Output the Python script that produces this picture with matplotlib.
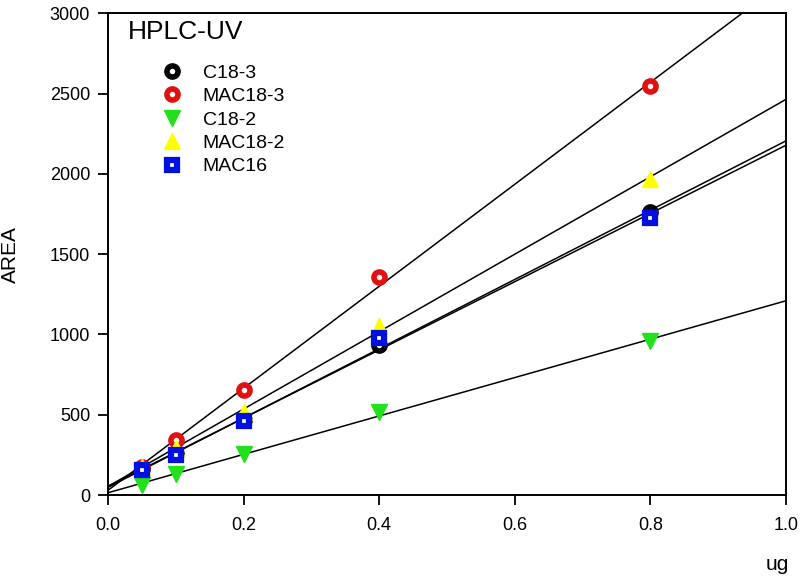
import numpy as np
import matplotlib.pyplot as plt

plt.rcParams['font.family'] = ['Liberation Sans', 'DejaVu Sans']

ug = np.array([0.05, 0.1, 0.2, 0.4, 0.8])
c18_3 = np.array([160, 255, 470, 935, 1765])
mac18_3 = np.array([174, 342, 653, 1357, 2546])
c18_2 = np.array([65, 130, 255, 515, 960])
mac18_2 = np.array([175, 290, 520, 1050, 1970])
mac16 = np.array([155, 250, 460, 975, 1725])

fig = plt.figure(figsize=(8.01, 5.77), dpi=100)
ax = fig.add_axes([0.135, 0.142, 0.846, 0.835])

xx = np.linspace(0, 1, 200)
series = [
    (c18_3, 'C18-3', dict(marker='o', mfc='white', mec='black', mew=4, ms=8)),
    (mac18_3, 'MAC18-3', dict(marker='o', mfc='white', mec='#e31010', mew=4, ms=8)),
    (c18_2, 'C18-2', dict(marker='v', mfc='#22e01c', mec='#22e01c', mew=1, ms=11)),
    (mac18_2, 'MAC18-2', dict(marker='^', mfc='#ffff00', mec='#ffff00', mew=1, ms=11)),
    (mac16, 'MAC16', dict(marker='s', mfc='white', mec='#0010e0', mew=4.5, ms=7.5)),
]

# linear fit lines for each column
for y, lab, st in series:
    k, b = np.polyfit(ug, y, 1)
    ax.plot(xx, k * xx + b, '-', color='black', lw=1.1, zorder=2)

for y, lab, st in series:
    ax.plot(ug, y, ls='none', label=lab, zorder=3, **st)

ax.set_xlim(0, 1.0)
ax.set_ylim(0, 3000)
ax.set_xticks([0.0, 0.2, 0.4, 0.6, 0.8, 1.0])
ax.set_yticks([0, 500, 1000, 1500, 2000, 2500, 3000])
ax.tick_params(labelsize=13, direction='out', length=7, width=1.3, top=False, right=False)
ax.tick_params(axis='x', pad=9)
ax.tick_params(axis='y', pad=6)
for s in ax.spines.values():
    s.set_linewidth(1.4)

ax.set_ylabel('AREA', fontsize=15)
ax.yaxis.set_label_coords(-0.13, 0.5)
fig.text(0.971, 0.021, 'ug', fontsize=15, ha='center', va='center')

ax.text(0.0295, 0.9616, 'HPLC-UV', transform=ax.transAxes, fontsize=19, va='center')
ax.legend(loc='upper left', bbox_to_anchor=(0.0476, 0.931), frameon=False,
          fontsize=14, handletextpad=0.8, labelspacing=0.3, handlelength=1.5)

fig.savefig('out.png', dpi=100)
